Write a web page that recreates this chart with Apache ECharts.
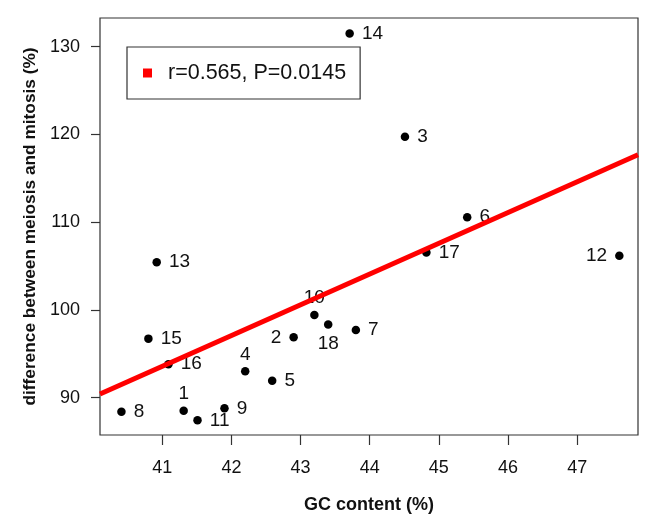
<!DOCTYPE html>
<html>
<head>
<meta charset="utf-8">
<script src="https://cdn.jsdelivr.net/npm/echarts@6/dist/echarts.min.js"></script>
<style>
html,body{margin:0;padding:0;background:#fff;}
#chart{width:653px;height:528px;}
</style>
</head>
<body>
<div id="chart"></div>
<script>
// ---- data ----
const pointIds   = ['1','2','3','4','5','6','7','8','9','10','11','12','13','14','15','16','17','18'];
const gcContent  = [41.31, 42.90, 44.51, 42.20, 42.59, 45.41, 43.80, 40.41, 41.90, 43.20, 41.51, 47.61, 40.92, 43.71, 40.80, 41.09, 44.82, 43.40];
const diffMeioMito = [88.52, 96.88, 119.73, 93.01, 91.94, 110.57, 97.72, 88.40, 88.79, 99.43, 87.42, 106.16, 105.44, 131.50, 96.73, 93.81, 106.53, 98.33];
const labelSide  = ['top','left','right','top','right','right','right','right','right','top','right','left','right','right','right','right','right','bottom'];
const fitLineX   = [40.10, 47.88];
const fitLineY   = [90.42, 117.67];
const xTickValues = [41, 42, 43, 44, 45, 46, 47];
const yTickValues = [90, 100, 110, 120, 130];
const legendText = 'r=0.565, P=0.0145';
const xTitle = 'GC content (%)';
const yTitle = 'difference between meiosis and mitosis (%)';

const FONT = '"Liberation Sans", Arial, sans-serif';
const TXT = '#111';

const scatterData = pointIds.map((id, i) => ({
  value: [gcContent[i], diffMeioMito[i]],
  name: id,
  label: { position: labelSide[i], distance: labelSide[i] === 'top' ? 3 : (labelSide[i] === 'bottom' ? 5 : 8) }
}));
const lineData = fitLineX.map((x, i) => [x, fitLineY[i]]);

const chart = echarts.init(document.getElementById('chart'), null, { renderer: 'canvas' });
chart.setOption({
  animation: false,
  backgroundColor: '#fff',
  textStyle: { fontFamily: FONT },
  grid: {
    left: 100, top: 18, right: 15, bottom: 93,
    show: true, borderColor: '#333', borderWidth: 1.2, backgroundColor: 'transparent',
    outerBoundsMode: 'none'
  },
  legend: {
    data: [{ name: legendText, icon: 'rect' }],
    left: 127, top: 47,
    itemWidth: 9, itemHeight: 9,
    padding: [15, 14, 15, 16],
    borderColor: '#333', borderWidth: 1.2,
    textStyle: { fontSize: 21.5, color: TXT, fontFamily: FONT, padding: [0, 0, 0, 11] }
  },
  xAxis: {
    type: 'value', min: 40.10, max: 47.88,
    splitLine: { show: false },
    axisLine: { show: false },
    axisTick: { show: true, length: 10, customValues: xTickValues, lineStyle: { color: '#333', width: 1.2 } },
    axisLabel: { customValues: xTickValues, margin: 24, fontSize: 18, color: TXT, fontFamily: FONT },
    name: xTitle, nameLocation: 'middle', nameGap: 61,
    nameTextStyle: { fontSize: 18, fontWeight: 'bold', color: TXT, fontFamily: FONT }
  },
  yAxis: {
    type: 'value', min: 85.75, max: 133.26,
    splitLine: { show: false },
    axisLine: { show: false },
    axisTick: { show: true, length: 9, customValues: yTickValues, lineStyle: { color: '#333', width: 1.2 } },
    axisLabel: { customValues: yTickValues, margin: 20, fontSize: 18, color: TXT, fontFamily: FONT },
    name: yTitle, nameLocation: 'middle', nameGap: 56, nameRotate: 90,
    nameTextStyle: { fontSize: 17.3, fontWeight: 'bold', color: TXT, fontFamily: FONT }
  },
  series: [
    {
      type: 'scatter', name: 'points',
      symbol: 'circle', symbolSize: 8.5,
      itemStyle: { color: '#000', opacity: 1 },
      label: { show: true, formatter: p => p.name, fontSize: 19, color: TXT, opacity: 1, fontFamily: FONT },
      data: scatterData,
      z: 2
    },
    {
      type: 'line', name: legendText,
      data: lineData, showSymbol: false, symbol: 'none',
      lineStyle: { color: '#f00', width: 5 },
      itemStyle: { color: '#f00' },
      z: 3
    }
  ]
});
</script>
</body>
</html>
